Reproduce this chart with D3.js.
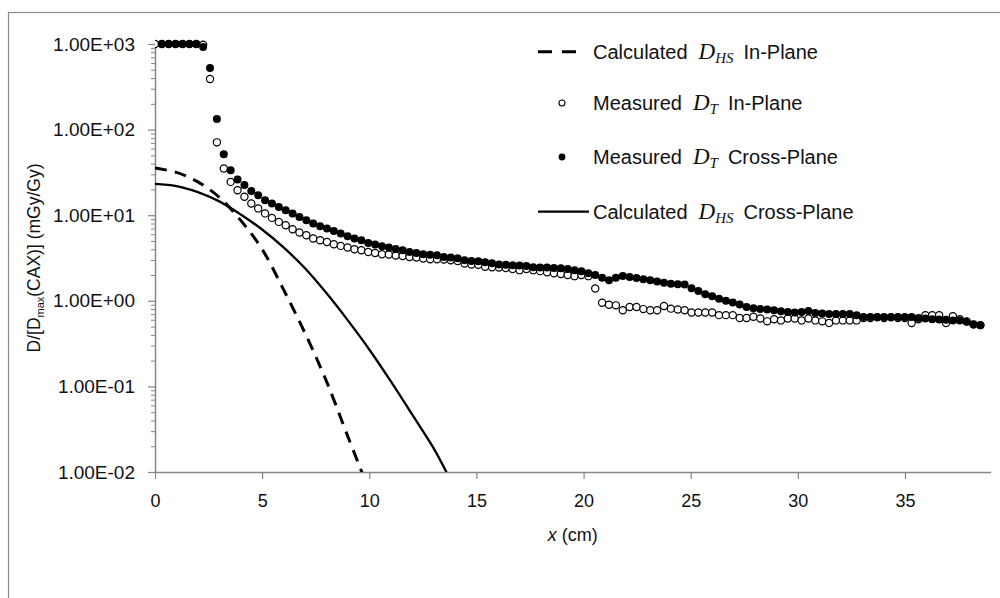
<!DOCTYPE html>
<html>
<head>
<meta charset="utf-8">
<script src="https://cdn.jsdelivr.net/npm/d3@7"></script>
<style>
  html, body { margin: 0; padding: 0; background: #fff; }
  svg { display: block; }
  text { font-family: "Liberation Sans", Arial, sans-serif; fill: #111; }
</style>
</head>
<body>
<svg id="chart" width="1000" height="598"></svg>
<script>
// Calculated half-space dose, in-plane (x in cm, D/Dmax)
const calcInX = [0, 1, 2, 3, 4, 5, 6, 7, 8, 9, 9.7];
const calcInY = [35.5, 31.6, 24.5, 16.2, 8.7, 4.0, 1.35, 0.42, 0.115, 0.026, 0.0093];

// Calculated half-space dose, cross-plane
const calcCrossX = [0, 1, 2, 3, 4, 5, 6, 7, 8, 9, 10, 11, 12, 13, 13.7];
const calcCrossY = [23.2, 21.9, 18.6, 14.5, 10.2, 6.8, 4.2, 2.4, 1.23, 0.59, 0.27, 0.115, 0.047, 0.019, 0.0089];

// Measured profiles, sampled every sampleStepCm along x
const sampleStepCm = 0.321;
const measuredIn = [
  1000, 1000, 1000, 1000, 1000, 1000, 1000, 980, 390, 71,
  35.2, 24.5, 19.6, 16.4, 13.7, 12.0, 10.5, 9.3, 8.35, 7.64,
  6.86, 6.28, 5.84, 5.34, 5.10, 4.87, 4.58, 4.38, 4.19, 4.00,
  3.90, 3.72, 3.62, 3.50, 3.48, 3.38, 3.33, 3.25, 3.20, 3.12,
  3.05, 3.05, 3.03, 2.98, 2.92, 2.72, 2.65, 2.63, 2.50, 2.47,
  2.45, 2.42, 2.35, 2.28, 2.35, 2.28, 2.22, 2.15, 2.10, 2.05,
  2.00, 1.94, 2.00, 1.94, 1.39, 0.95, 0.90, 0.885, 0.775, 0.845,
  0.845, 0.80, 0.775, 0.775, 0.87, 0.81, 0.79, 0.775, 0.73, 0.73,
  0.73, 0.73, 0.68, 0.68, 0.68, 0.63, 0.63, 0.65, 0.62, 0.575,
  0.61, 0.59, 0.62, 0.62, 0.59, 0.62, 0.59, 0.575, 0.55, 0.59,
  0.59, 0.59, 0.59, 0.63, 0.63, 0.64, 0.63, 0.64, 0.63, 0.63,
  0.55, 0.61, 0.68, 0.68, 0.68, 0.55, 0.66, 0.61, 0.575, 0.53,
  0.52
];
const measuredCross = [
  null, 1000, 1000, 1000, 1000, 1000, 1000, 922, 523, 133,
  51.6, 33.6, 26.2, 22.5, 19.2, 17.1, 15.0, 13.7, 12.5, 11.4,
  10.5, 9.55, 8.74, 8.0, 7.44, 6.98, 6.55, 6.11, 5.68, 5.34,
  5.10, 4.74, 4.54, 4.34, 4.19, 4.03, 3.90, 3.72, 3.62, 3.50,
  3.45, 3.40, 3.25, 3.20, 3.14, 2.98, 2.92, 2.90, 2.82, 2.75,
  2.65, 2.63, 2.60, 2.58, 2.55, 2.47, 2.45, 2.45, 2.42, 2.40,
  2.35, 2.28, 2.22, 2.10, 2.00, 1.86, 1.74, 1.86, 1.95, 1.90,
  1.85, 1.78, 1.74, 1.68, 1.62, 1.58, 1.56, 1.55, 1.40, 1.30,
  1.19, 1.13, 1.06, 1.00, 0.953, 0.904, 0.845, 0.82, 0.80, 0.79,
  0.775, 0.755, 0.74, 0.73, 0.74, 0.76, 0.72, 0.71, 0.70, 0.70,
  0.70, 0.70, 0.68, 0.647, 0.647, 0.647, 0.647, 0.647, 0.647, 0.647,
  0.647, 0.63, 0.62, 0.61, 0.605, 0.60, 0.59, 0.59, 0.57, 0.53,
  0.517
];

const xTicks = [0, 5, 10, 15, 20, 25, 30, 35];
const yTicks = [1e-2, 1e-1, 1, 10, 100, 1000];
const yTickLabels = ["1.00E-02", "1.00E-01", "1.00E+00", "1.00E+01", "1.00E+02", "1.00E+03"];

const svg = d3.select("#chart");
const plot = { left: 155, right: 990.7, top: 44, bottom: 472 };
const axisColor = "#868686";

svg.append("rect").attr("width", 1000).attr("height", 598).attr("fill", "#fff");
// outer chart frame
svg.append("rect")
  .attr("x", 8.5).attr("y", 12.5).attr("width", 1000).attr("height", 600)
  .attr("fill", "none").attr("stroke", "#8c8c8c").attr("stroke-width", 1.2);

const x = d3.scaleLinear().domain([0, 39]).range([plot.left, plot.right]);
const y = d3.scaleLog().domain([0.01, 1000]).range([plot.bottom, plot.top]);

svg.append("clipPath").attr("id", "plotClip")
  .append("rect")
  .attr("x", plot.left).attr("y", plot.top - 6)
  .attr("width", plot.right - plot.left + 6).attr("height", plot.bottom - plot.top + 6);

// minor log ticks
const minor = [];
for (let e = -2; e < 3; e++) for (let m = 2; m <= 9; m++) minor.push(m * Math.pow(10, e));
svg.append("g")
  .attr("transform", `translate(${plot.left},0)`)
  .call(d3.axisLeft(y).tickValues(minor).tickSize(4).tickFormat(""))
  .call(g => g.select(".domain").remove())
  .call(g => g.selectAll("line").attr("stroke", axisColor));

// y axis
const yAxis = svg.append("g")
  .attr("transform", `translate(${plot.left},0)`)
  .call(d3.axisLeft(y).tickValues(yTicks).tickSize(7).tickSizeOuter(0)
    .tickFormat((d, i) => yTickLabels[i]));
yAxis.select(".domain").attr("stroke", axisColor).attr("stroke-width", 1.5);
yAxis.selectAll("line").attr("stroke", axisColor).attr("stroke-width", 1.2);
yAxis.selectAll("text").attr("x", -20).style("font-size", "19px")
  .style("font-family", "'Liberation Sans', Arial, sans-serif").attr("fill", "#111");

// x axis
const xAxis = svg.append("g")
  .attr("transform", `translate(0,${plot.bottom})`)
  .call(d3.axisBottom(x).tickValues(xTicks).tickSize(7).tickSizeOuter(0));
xAxis.select(".domain").attr("stroke", axisColor).attr("stroke-width", 1.5);
xAxis.selectAll("line").attr("stroke", axisColor).attr("stroke-width", 1.2);
xAxis.selectAll("text").attr("y", 22).style("font-size", "18px")
  .style("font-family", "'Liberation Sans', Arial, sans-serif").attr("fill", "#111");

// axis titles
const xt = svg.append("text")
  .attr("x", (plot.left + plot.right) / 2).attr("y", 541)
  .attr("text-anchor", "middle").style("font-size", "18px");
xt.append("tspan").style("font-style", "italic").text("x");
xt.append("tspan").text(" (cm)");

const yt = svg.append("text")
  .attr("transform", `translate(40,${(plot.top + plot.bottom) / 2}) rotate(-90)`)
  .attr("text-anchor", "middle").style("font-size", "17.5px");
yt.append("tspan").text("D/[D");
yt.append("tspan").attr("dy", 4).style("font-size", "11px").text("max");
yt.append("tspan").attr("dy", -4).text("(CAX)] (mGy/Gy)");

// series
const lineGen = d3.line()
  .x(d => x(d[0])).y(d => y(d[1]))
  .curve(d3.curveCatmullRom.alpha(0.5));

const series = svg.append("g").attr("clip-path", "url(#plotClip)");

series.append("path")
  .datum(calcInX.map((v, i) => [v, calcInY[i]]))
  .attr("d", lineGen)
  .attr("fill", "none").attr("stroke", "#000")
  .attr("stroke-width", 3).attr("stroke-dasharray", "12,8");

const inPts = measuredIn.map((v, i) => [i * sampleStepCm, v]).filter(d => d[1] != null);
series.append("g").selectAll("circle").data(inPts).join("circle")
  .attr("cx", d => x(d[0])).attr("cy", d => y(d[1])).attr("r", 3.6)
  .attr("fill", "#fff").attr("stroke", "#000").attr("stroke-width", 1.2);

const crossPts = measuredCross.map((v, i) => [i * sampleStepCm, v]).filter(d => d[1] != null);
series.append("g").selectAll("circle").data(crossPts).join("circle")
  .attr("cx", d => x(d[0])).attr("cy", d => y(d[1])).attr("r", 4)
  .attr("fill", "#000");

series.append("path")
  .datum(calcCrossX.map((v, i) => [v, calcCrossY[i]]))
  .attr("d", lineGen)
  .attr("fill", "none").attr("stroke", "#000").attr("stroke-width", 2.3);

// legend
const legend = svg.append("g");
const rows = [
  { y: 51.7, sub: "HS", pre: "Calculated", post: "In-Plane", kind: "dash" },
  { y: 103, sub: "T", pre: "Measured", post: "In-Plane", kind: "open" },
  { y: 157, sub: "T", pre: "Measured", post: "Cross-Plane", kind: "filled" },
  { y: 211.7, sub: "HS", pre: "Calculated", post: "Cross-Plane", kind: "solid" }
];
rows.forEach(r => {
  if (r.kind === "dash") {
    legend.append("line").attr("x1", 538).attr("x2", 576).attr("y1", r.y).attr("y2", r.y)
      .attr("stroke", "#000").attr("stroke-width", 3).attr("stroke-dasharray", "14,10");
  } else if (r.kind === "solid") {
    legend.append("line").attr("x1", 538).attr("x2", 589).attr("y1", r.y).attr("y2", r.y)
      .attr("stroke", "#000").attr("stroke-width", 2.3);
  } else if (r.kind === "open") {
    legend.append("circle").attr("cx", 562).attr("cy", r.y).attr("r", 3)
      .attr("fill", "#fff").attr("stroke", "#000").attr("stroke-width", 1.1);
  } else {
    legend.append("circle").attr("cx", 562).attr("cy", r.y).attr("r", 3.4).attr("fill", "#000");
  }
  const t = legend.append("text").attr("x", 593).attr("y", r.y + 7).style("font-size", "20px");
  t.append("tspan").text(r.pre);
  t.append("tspan").attr("dx", 11)
    .style("font-family", "'Liberation Serif', 'DejaVu Serif', serif")
    .style("font-style", "italic").style("font-size", "23px").text("D");
  t.append("tspan").attr("dy", 4)
    .style("font-family", "'Liberation Serif', 'DejaVu Serif', serif")
    .style("font-style", "italic").style("font-size", "15px").text(r.sub);
  t.append("tspan").attr("dy", -4).attr("dx", 10).text(r.post);
});
</script>
</body>
</html>
